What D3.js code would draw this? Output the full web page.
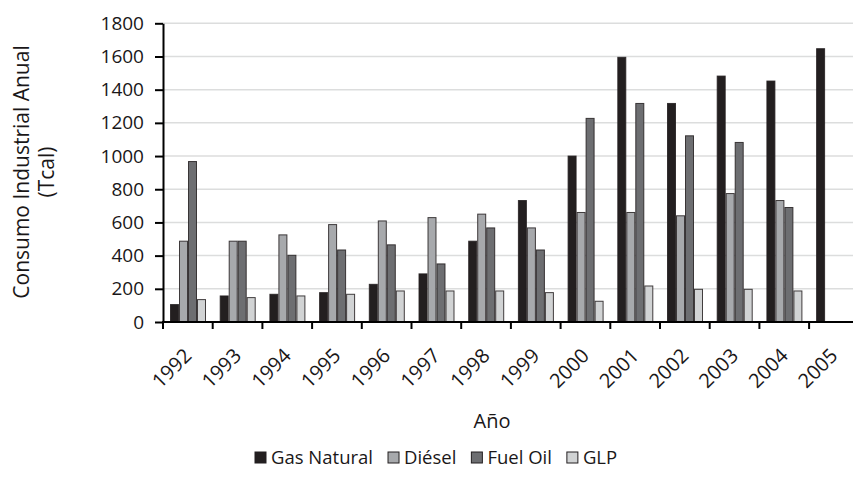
<!DOCTYPE html>
<html>
<head>
<meta charset="utf-8">
<script src="https://cdn.jsdelivr.net/npm/d3@7"></script>
<style>
  body { margin: 0; background: #fff; }
  text { font-family: "Open Sans", "Noto Sans", sans-serif; fill: #1a1718; }
</style>
</head>
<body>
<div id="chart"></div>
<script>
/* Consumo industrial anual por combustible, 1992-2005 */

const years = ["1992", "1993", "1994", "1995", "1996", "1997", "1998",
               "1999", "2000", "2001", "2002", "2003", "2004", "2005"];
const seriesNames = ["Gas Natural", "Diésel", "Fuel Oil", "GLP"];
const gasNatural = [105, 157, 167, 177, 227, 290, 487, 732, 1000, 1595, 1317, 1482, 1452, 1647];
const diesel     = [487, 487, 525, 587, 609, 629, 650, 567, 660, 660, 640, 774, 732, 0];
const fuelOil    = [967, 487, 402, 434, 465, 350, 567, 434, 1227, 1317, 1122, 1082, 690, 0];
const glp        = [135, 147, 157, 167, 187, 187, 187, 177, 125, 217, 197, 197, 187, 0];
const yTicks = [0, 200, 400, 600, 800, 1000, 1200, 1400, 1600, 1800];

const colors = ["#231f20", "#a7a9ac", "#6d6e71", "#d1d3d4"];
const allSeries = [gasNatural, diesel, fuelOil, glp];

const width = 853, height = 485,
      margin = ({ top: 23.3, left: 163, bottom: 163 });

const svg = d3.select("#chart")
    .append("svg")
    .attr("width", width)
    .attr("height", height);

const x0 = d3.scaleBand()
    .domain(years)
    .range([margin.left, margin.left + 14 * 49.7])
    .padding(0);

const x1 = d3.scaleBand()
    .domain(seriesNames)
    .range([7, 43])
    .padding(0);

const y = d3.scaleLinear()
    .domain([0, 1800])
    .range([322, margin.top]);

// gridlines
svg.append("g")
    .selectAll("line")
    .data(yTicks.slice(1))
    .join("line")
    .attr("x1", margin.left)
    .attr("x2", width)
    .attr("y1", d => y(d))
    .attr("y2", d => y(d))
    .attr("stroke", "#dcdddd")
    .attr("stroke-width", 1.5);

// bars
const groups = svg.append("g")
    .selectAll("g")
    .data(years)
    .join("g")
    .attr("transform", d => `translate(${x0(d)},0)`);

groups.selectAll("rect")
    .data((yr, i) => seriesNames.map((s, j) => ({ s, j, v: allSeries[j][i] })).filter(d => d.v > 0))
    .join("rect")
    .attr("x", d => x1(d.s) + 0.5)
    .attr("width", x1.bandwidth() - 1)
    .attr("y", d => y(d.v))
    .attr("height", d => y(0) - y(d.v))
    .attr("fill", d => colors[d.j])
    .attr("stroke", "#231f20")
    .attr("stroke-opacity", 0.85)
    .attr("stroke-width", 1);

// y axis
const yAxis = g => g
    .attr("transform", `translate(${margin.left},0)`)
    .call(d3.axisLeft(y).tickValues(yTicks).tickFormat(d3.format("d"))
        .tickSize(8).tickPadding(11).tickSizeOuter(0))
    .call(g => g.selectAll("line, path").attr("stroke", "#000").attr("stroke-width", 2))
    .call(g => g.selectAll("text")
        .style("font-family", '"Open Sans", sans-serif')
        .style("font-size", "19px")
        .attr("fill", "#1a1718"));

svg.append("g").call(yAxis);

// x axis: line with ticks at band edges, labels rotated at band centres
const xg = svg.append("g");
xg.append("line")
    .attr("x1", margin.left - 1)
    .attr("x2", width)
    .attr("y1", y(0))
    .attr("y2", y(0))
    .attr("stroke", "#000")
    .attr("stroke-width", 2);

xg.selectAll(".tk")
    .data(years)
    .join("line")
    .attr("class", "tk")
    .attr("x1", d => x0(d))
    .attr("x2", d => x0(d))
    .attr("y1", y(0))
    .attr("y2", y(0) + 7)
    .attr("stroke", "#000")
    .attr("stroke-width", 2);

xg.selectAll(".lbl")
    .data(years)
    .join("text")
    .attr("class", "lbl")
    .attr("text-anchor", "end")
    .attr("font-size", 20)
    .attr("transform", d => `translate(${x0(d) + x0.bandwidth() / 2 + 5},357) rotate(-45)`)
    .text(d => d);

// axis titles
const yTitle = svg.append("text")
    .attr("text-anchor", "middle")
    .attr("font-size", 21)
    .attr("transform", "translate(29,172) rotate(-90)");
yTitle.append("tspan").attr("x", 0).attr("y", 0).text("Consumo Industrial Anual");
yTitle.append("tspan").attr("x", 0).attr("y", 25).text("(Tcal)");

svg.append("text")
    .attr("x", 492)
    .attr("y", 428)
    .attr("text-anchor", "middle")
    .attr("font-size", 20)
    .text("Año");

// legend
const legend = svg.append("g");
const items = legend.selectAll("g")
    .data(seriesNames)
    .join("g");

items.append("rect")
    .attr("width", 11)
    .attr("height", 11)
    .attr("y", -12)
    .attr("fill", (d, i) => colors[i])
    .attr("stroke", "#231f20")
    .attr("stroke-width", 1);

items.append("text")
    .attr("x", 16)
    .attr("font-size", 18.5)
    .text(d => d);

let lx = 255;
items.each(function () {
    const w = d3.select(this).select("text").node().getComputedTextLength();
    d3.select(this).attr("transform", `translate(${lx},464)`);
    lx += 16 + w + 15;
});
</script>
</body>
</html>
